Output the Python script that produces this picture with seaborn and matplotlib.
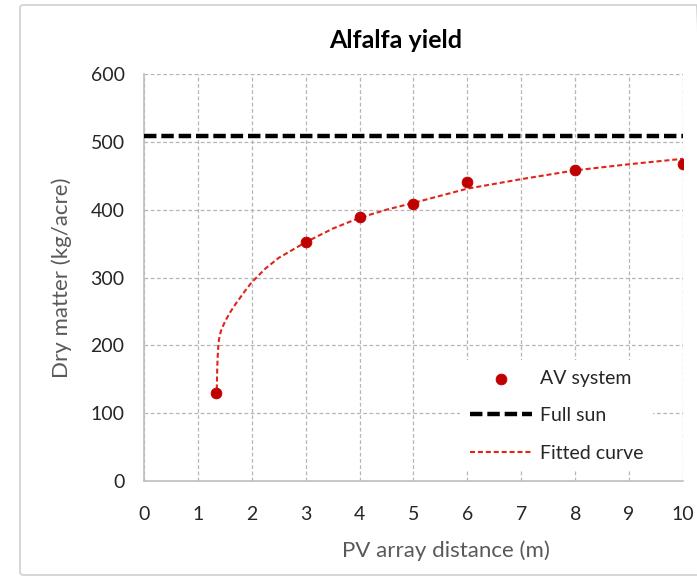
import matplotlib
matplotlib.use("Agg")
import matplotlib.pyplot as plt
from matplotlib.patches import FancyBboxPatch
import seaborn as sns

# measured points (AV system)
av_x = [1.33, 3, 4, 5, 6, 8, 10]
av_y = [130, 352, 389, 409, 441, 459, 468]

# full-sun reference
sun_x = [0, 10]
sun_y = [509, 509]

# fitted curve
fit_x = [1.35, 1.36, 1.37, 1.38, 1.39, 1.41, 1.44, 1.48, 1.53, 1.6, 1.7, 1.8, 1.9, 2.0,
         2.25, 2.5, 3.0, 3.5, 4.0, 4.5, 5.0, 6.0, 7.0, 8.0, 9.0, 10.0]
fit_y = [135, 170, 188, 200, 208, 216, 224, 231, 239, 249, 261, 272, 283, 293,
         313, 329, 352, 372, 388, 400, 410, 431, 445, 458, 467, 475]

sns.set_style("white")
plt.rcParams['font.family'] = ['Lato', 'DejaVu Sans']

fig = plt.figure(figsize=(6.97, 5.8), dpi=100)
ax = fig.add_axes([0.2066, 0.1707, 0.7733, 0.7017])

red = "#C00000"
sns.lineplot(x=fit_x, y=fit_y, ax=ax, color="#E0241B", lw=1.5, dashes=False,
             sort=False, estimator=None, label="Fitted curve", zorder=3)
ax.lines[-1].set_dashes([2.4, 1.4])
sns.lineplot(x=sun_x, y=sun_y, ax=ax, color="black", lw=3.2,
             sort=False, estimator=None, label="Full sun", zorder=3)
ax.lines[-1].set_dashes([2.8, 1.1])
sns.scatterplot(x=av_x, y=av_y, ax=ax, color=red, s=60, edgecolor=red,
                label="AV system", zorder=4)

ax.set_xlim(0, 10)
ax.set_ylim(0, 600)
ax.set_xticks(range(0, 11))
ax.set_yticks(range(0, 601, 100))
ax.grid(True, ls=(0, (3, 2)), color="#b5b5b5", lw=0.9)
ax.set_axisbelow(True)
for s in ["top", "right"]:
    ax.spines[s].set_visible(False)
for s in ["left", "bottom"]:
    ax.spines[s].set_color("#bfbfbf")
    ax.spines[s].set_linewidth(1.2)
ax.tick_params(length=0, labelsize=14, colors="#262626")
ax.tick_params(axis="x", pad=18)
ax.tick_params(axis="y", pad=14)

ax.set_xlabel("PV array distance (m)", fontsize=16, color="#595959")
ax.set_ylabel("Dry matter (kg/acre)", fontsize=16, color="#595959")
ax.xaxis.set_label_coords(0.56, -0.145)
ax.yaxis.set_label_coords(-0.134, 0.499)

fig.text(0.567, 0.931, "Alfalfa yield", fontsize=18, fontweight="bold",
         ha="center", va="center", color="black")

h, l = ax.get_legend_handles_labels()
order = [l.index("AV system"), l.index("Full sun"), l.index("Fitted curve")]
leg = ax.legend([h[i] for i in order], [l[i] for i in order],
                loc="lower right", bbox_to_anchor=(0.963, 0.0), frameon=True,
                facecolor="white", edgecolor="none", framealpha=1, fontsize=14,
                handlelength=3.2, labelspacing=1.05, borderpad=0.5, handletextpad=0.4)

border = FancyBboxPatch((20 / 697, 5 / 580), 680 / 697, 570 / 580,
                        boxstyle="round,pad=0,rounding_size=0.005",
                        transform=fig.transFigure, fill=False,
                        edgecolor="#d0d0d0", lw=1.2)
fig.patches.append(border)

fig.savefig("out.png", dpi=100)
